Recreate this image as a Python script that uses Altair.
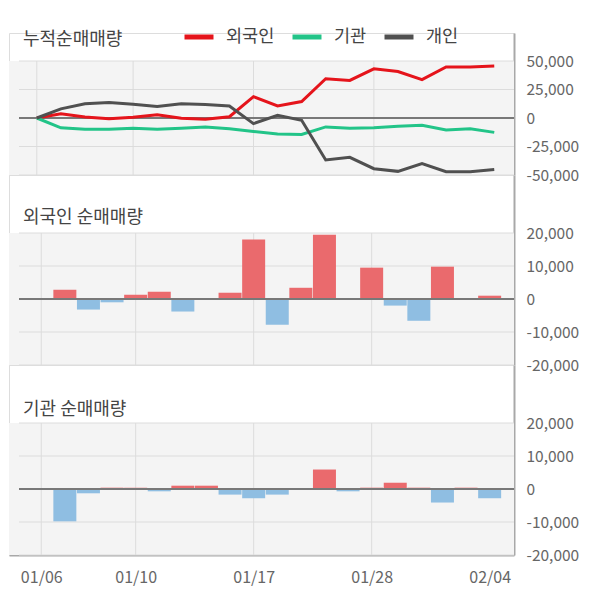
import altair as alt
import pandas as pd

# ---------------- data ----------------
dates = ["01/06", "01/07", "01/08", "01/09", "01/10", "01/13", "01/14", "01/15",
         "01/16", "01/17", "01/20", "01/21", "01/22", "01/23", "01/28", "01/29",
         "01/30", "01/31", "02/03", "02/04"]
series_names = ["외국인", "기관", "개인"]
cum_foreign = [0, 3700, 900, -600, 600, 2900, -300, -1100, 1100, 18700, 10600, 14400,
               34500, 33000, 43100, 40800, 33600, 44800, 44800, 45600]
cum_inst = [0, -8600, -9800, -9800, -8900, -9800, -8900, -7800, -9500, -11800, -14100,
            -14400, -7800, -8900, -8600, -7200, -6300, -10600, -9500, -12600]
cum_indiv = [0, 8000, 12400, 13500, 12000, 10000, 12400, 11800, 10600, -4900, 2300,
             -2000, -36800, -34500, -44500, -46800, -40000, -47100, -47100, -45100]
net_foreign = [0, 2800, -3200, -1000, 1300, 2200, -3800, 0, 1900, 18000, -7800, 3400,
               19500, 0, 9500, -2000, -6600, 9800, 0, 1000]
net_inst = [0, -9800, -1300, 400, 400, -700, 1000, 1000, -1700, -2800, -1700, 0, 5900,
            -700, 400, 1900, 400, -4100, 400, -2800]
ticks_cum = [-50000, -25000, 0, 25000, 50000]
ticks_net = [-20000, -10000, 0, 10000, 20000]
x_label_idx = [0, 4, 9, 14, 19]
x_grid_idx = [0, 4, 9, 14]
titles = ["누적순매매량", "외국인 순매매량", "기관 순매매량"]

# ---------------- style ----------------
FONT = "Noto Sans CJK KR"
W = 505
X_DOMAIN = [-1.155, 19.82]
LINE_COLORS = ["#e5141b", "#22c488", "#505050"]
RED_BAR = "#ea6a6d"
BLUE_BAR = "#8fbee2"
GRID = "#dcdcdc"
BG = "#f4f4f4"
AXIS_GRAY = "#a8a8a8"

xscale = alt.Scale(domain=X_DOMAIN, nice=False, zero=False)
label_expr = "[" + ",".join("'%s'" % d for d in dates) + "][datum.value]"
y_label_expr = "replace(format(datum.value, ',d'), '\u2212', '-')"


def x_axis(show):
    if not show:
        return None
    return alt.Axis(values=x_label_idx, labelExpr=label_expr, grid=False, ticks=False,
                    domainColor=AXIS_GRAY, domainWidth=2, labelPadding=14,
                    labelColor="#666", labelFontSize=16, labelFont=FONT,
                    labelFlush=False, title=None)


def y_axis(ticks):
    return alt.Axis(orient="right", values=ticks, labelExpr=y_label_expr, grid=False,
                    ticks=False, domainColor=AXIS_GRAY, domainWidth=2, labelPadding=12,
                    labelColor="#666", labelFontSize=15.5, labelFont=FONT,
                    labelFlush=False, title=None)


def panel(height, header_px, plot_px, ticks, content_layers, title, title_y, show_x):
    span = ticks[-1] - ticks[0]
    top = ticks[-1] + header_px * span / plot_px
    yscale = alt.Scale(domain=[ticks[0], top], nice=False, zero=False)
    xa = x_axis(show_x)
    ya = y_axis(ticks)

    def X(field):
        return alt.X(field, scale=xscale, axis=xa)

    def Y(field):
        return alt.Y(field, scale=yscale, axis=ya)

    bg = alt.Chart(pd.DataFrame({"lo": [ticks[0]], "hi": [ticks[-1]]})).mark_rect(
        color=BG).encode(x=alt.value(0), x2=alt.value(W), y=Y("hi:Q"), y2="lo:Q")
    hgrid = alt.Chart(pd.DataFrame({"v": [t for t in ticks if t != 0]})).mark_rule(
        color=GRID, strokeWidth=1).encode(y=Y("v:Q"), x=alt.value(10), x2=alt.value(W))
    vgrid = alt.Chart(pd.DataFrame({"i": x_grid_idx, "lo": ticks[0], "hi": ticks[-1]})).mark_rule(
        color=GRID, strokeWidth=1).encode(x=X("i:Q"), y=Y("hi:Q"), y2="lo:Q")
    zero = alt.Chart(pd.DataFrame({"v": [0]})).mark_rule(
        color="#787878", strokeWidth=2).encode(y=Y("v:Q"), x=alt.value(10), x2=alt.value(W))
    ttl = alt.Chart(pd.DataFrame({"t": [title]})).mark_text(
        align="left", baseline="middle", font=FONT, fontSize=18, color="#444").encode(
        text="t:N", x=alt.value(14), y=alt.value(title_y))

    layers = [bg, hgrid, vgrid] + content_layers(X, Y, zero) + [ttl]
    return alt.layer(*layers).properties(width=W, height=height)


# panel 1: cumulative lines
rows = []
for name, vals in zip(series_names, [cum_foreign, cum_inst, cum_indiv]):
    for i, v in enumerate(vals):
        rows.append({"i": i, "v": v, "s": name, "o": series_names.index(name)})
cum_df = pd.DataFrame(rows)


def lines_layers(X, Y, zero):
    ln = alt.Chart(cum_df).mark_line(strokeWidth=3).encode(
        x=X("i:Q"), y=Y("v:Q"),
        color=alt.Color("s:N", scale=alt.Scale(domain=series_names, range=LINE_COLORS),
                        legend=alt.Legend(orient="none", legendX=173, legendY=-13,
                                          direction="horizontal", title=None,
                                          symbolType="stroke", symbolSize=841,
                                          symbolStrokeWidth=5, labelFontSize=17.5,
                                          labelFont=FONT, labelColor="#444",
                                          gridAlign="none",
                                          columnPadding=7, labelOffset=10)),
        order="o:Q")
    return [zero, ln]


def bars_layers_for(vals):
    df = pd.DataFrame({"i": list(range(len(vals))), "v": vals})

    def f(X, Y, zero):
        b = alt.Chart(df).mark_bar(width=23).encode(
            x=X("i:Q"), y=Y("v:Q"),
            color=alt.condition("datum.v > 0", alt.value(RED_BAR), alt.value(BLUE_BAR)))
        return [b, zero]
    return f


p1 = panel(142, 28, 114, ticks_cum, lines_layers, titles[0], 7, False)
p2 = panel(190, 58, 132, ticks_net, bars_layers_for(net_foreign), titles[1], 43, False)
p3 = panel(190, 58, 132, ticks_net, bars_layers_for(net_inst), titles[2], 45, True)

chart = alt.vconcat(p1, p2, p3, spacing=0, bounds="flush",
                    padding={"left": 0, "top": 12, "right": 5, "bottom": 5}
                    ).configure_view(stroke=None).configure(font=FONT)

chart.save("out.html", embed_options={"renderer": "svg", "actions": False})
